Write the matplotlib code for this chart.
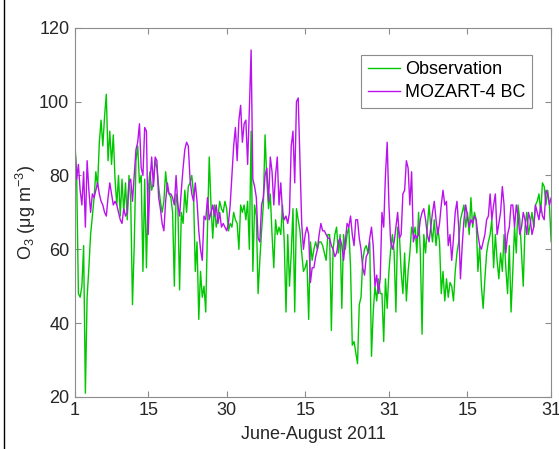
import numpy as np
import matplotlib
matplotlib.use("Agg")
import matplotlib.pyplot as plt
from matplotlib.lines import Line2D

plt.rcParams['font.family'] = ['Liberation Sans', 'DejaVu Sans']
plt.rcParams['mathtext.fontset'] = 'custom'
plt.rcParams['mathtext.rm'] = 'Liberation Sans'
plt.rcParams['mathtext.it'] = 'Liberation Sans:italic'

# O3 (ug m-3), three values per day (00, 08, 16 h), 1 June - 31 Aug 2011
obs = [
    89, 80, 48,   47, 50, 61,   21, 47, 55,   64, 69, 74,   81, 77, 89,
    95, 88, 96,   102, 84, 92,  83, 91, 79,   72, 80, 69,   79, 70, 78,
    68, 80, 73,   45, 61, 84,   88, 78, 80,   54, 79, 55,   76, 81, 76,
    78, 84, 82,   77, 73, 70,   73, 81, 76,   75, 74, 70,   50, 75, 72,
    49, 70, 67,   76, 70, 77,   78, 80, 75,   54, 62, 41,   54, 47, 50,
    43, 66, 85,   72, 63, 72,   66, 69, 73,   71, 70, 73,   71, 65, 67,
    66, 70, 68,   67, 60, 72,   70, 72, 68,   73, 60, 92,   54, 72, 69,
    48, 57, 65,   72, 91, 79,   71, 75, 64,   55, 68, 64,   66, 64, 72,
    62, 43, 64,   50, 59, 71,   43, 71, 68,   65, 59, 54,   55, 57, 41,
    62, 57, 60,   62, 60, 62,   62, 61, 59,   57, 64, 64,   38, 60, 64,
    66, 59, 64,   44, 64, 60,   64, 66, 55,   34, 35, 32,   29, 45, 47,
    57, 60, 61,   59, 62, 31,   43, 50, 46,   52, 48, 48,   35, 52, 44,
    54, 60, 64,   59, 43, 66,   64, 54, 48,   59, 46, 54,   59, 66, 64,
    66, 59, 70,   59, 37, 64,   59, 66, 72,   66, 62, 68,   61, 66, 62,
    48, 54, 46,   52, 47, 51,   50, 46, 54,   59, 62, 68,   70, 72, 66,
    70, 64, 74,   66, 70, 68,   54, 61, 50,   44, 52, 59,   62, 64, 68,
    55, 64, 57,   52, 59, 54,   64, 55, 48,   61, 43, 54,   66, 59, 72,
    68, 59, 50,   66, 70, 64,   67, 70, 66,   72, 73, 75,   70, 78, 77,
    72, 76, 72,   62, 66, 64,
]

mozart = [
    88, 79, 83,   76, 72, 81,   66, 84, 76,   70, 75, 74,   76, 78, 75,
    73, 72, 70,   69, 74, 78,   75, 72, 73,   72, 70, 68,   67, 71, 69,
    70, 78, 79,   73, 80, 87,   89, 94, 82,   80, 93, 92,   64, 78, 85,
    77, 85, 84,   74, 71, 67,   65, 73, 78,   75, 75, 74,   72, 80, 72,
    69, 76, 82,   87, 89, 88,   79, 75, 73,   78, 73, 65,   60, 57, 69,
    68, 74, 68,   70, 72, 69,   72, 67, 70,   66, 67, 66,   65, 67, 72,
    80, 88, 93,   84, 95, 99,   89, 94, 95,   83, 98, 114,  79, 77, 74,
    63, 62, 72,   74, 80, 82,   73, 85, 81,   72, 80, 85,   72, 78, 70,
    68, 69, 67,   70, 88, 92,   78, 100, 101, 84, 67, 60,   64, 66, 64,
    51, 55, 55,   58, 60, 64,   67, 65, 65,   64, 63, 63,   61, 60, 58,
    59, 62, 63,   61, 57, 62,   67, 66, 69,   64, 61, 68,   68, 63, 60,
    55, 53, 58,   59, 63, 66,   61, 50, 53,   48, 52, 70,   66, 80, 89,
    72, 62, 60,   62, 66, 70,   63, 64, 75,   76, 84, 82,   72, 81, 62,
    64, 63, 64,   68, 70, 71,   68, 64, 62,   66, 70, 73,   68, 64, 67,
    72, 76, 72,   73, 61, 64,   57, 63, 70,   73, 66, 52,   61, 68, 72,
    69, 66, 68,   67, 69, 68,   64, 61, 60,   62, 64, 68,   69, 75, 68,
    72, 75, 64,   67, 70, 77,   72, 59, 64,   66, 72, 72,   66, 72, 69,
    64, 66, 70,   68, 64, 70,   68, 64, 66,   72, 70, 68,   72, 69, 68,
    76, 75, 72,   74, 72, 70,
]

tick_days = [0, 14, 29, 44, 60, 75, 91]
tick_labels = ['1', '15', '30', '15', '31', '15', '31']

t = np.arange(len(obs)) / 3.0   # days since 1 June

fig = plt.figure(figsize=(5.59, 4.49), dpi=100)
ax = fig.add_axes([0.134, 0.116, 0.852, 0.822])

ax.plot(t, obs, color='#00c800', lw=1.0, label='Observation')
ax.plot(t, mozart, color='#bb11ee', lw=1.0, label='MOZART-4 BC')

ax.set_xlim(0, 91)
ax.set_ylim(20, 120)
ax.set_xticks(tick_days)
ax.set_xticklabels(tick_labels)
ax.set_yticks([20, 40, 60, 80, 100, 120])

for s in ax.spines.values():
    s.set_color('#8c8c8c')
    s.set_linewidth(0.8)
ax.tick_params(direction='in', top=True, right=True, length=4,
               color='#8c8c8c', labelsize=13, labelcolor='#262626', pad=4)

ax.set_xlabel('June-August 2011', fontsize=13, color='#262626', labelpad=5)
ax.set_ylabel('O$_3$ (\u03bcg m$^{-3}$)', fontsize=13, color='#262626', labelpad=1)

leg = ax.legend(loc='upper right', bbox_to_anchor=(0.96, 0.927), fontsize=13,
                frameon=True, fancybox=False, framealpha=1, edgecolor='#8c8c8c',
                handlelength=1.8, handletextpad=0.3, labelspacing=0.35,
                borderpad=0.35, borderaxespad=0)
leg.get_frame().set_linewidth(0.8)

# thin border at the left edge of the picture
fig.add_artist(Line2D([0.008, 0.008], [0, 1], color='black', lw=1.0))

fig.savefig('out.png', dpi=100)
